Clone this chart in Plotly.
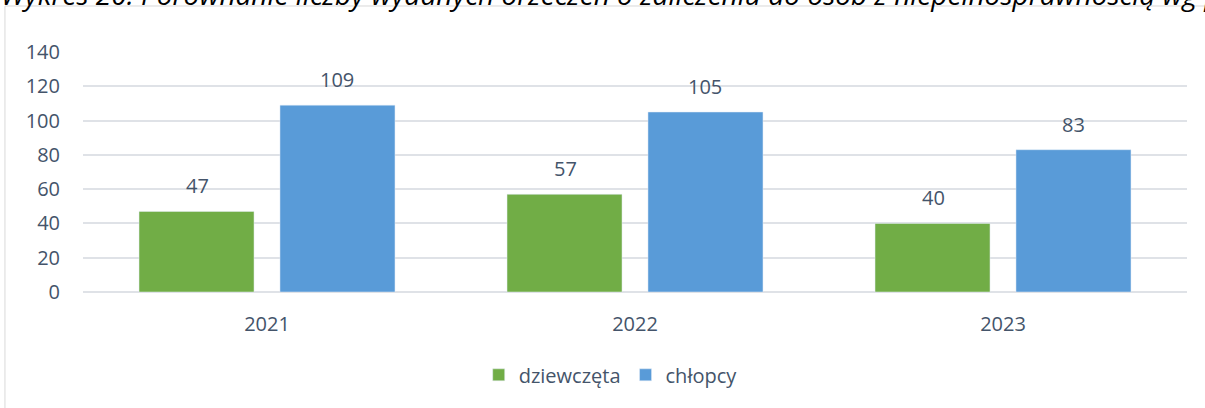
import plotly.graph_objects as go

years = ["2021", "2022", "2023"]
girls = [47, 57, 40]
boys = [109, 105, 83]
series_names = ["dziewczęta", "chłopcy"]
y_ticks = [0, 20, 40, 60, 80, 100, 120, 140]
title_text = "Wykres 20. Porównanie liczby wydanych orzeczeń o zaliczeniu do osób z niepełnosprawnością wg płci"

FONT = "Open Sans"
TXT = "#44546a"

fig = go.Figure()
fig.add_trace(go.Bar(x=years, y=girls, name=series_names[0], marker_color="#71ad46"))
fig.add_trace(go.Bar(x=years, y=boys, name=series_names[1], marker_color="#599bd8"))

annotations = [dict(text=title_text, xref="paper", yref="paper", x=-0.0761, y=1.155,
                    xanchor="left", yanchor="bottom", showarrow=False,
                    font=dict(family=FONT, size=28, color="black", style="italic"))]
for vals, shift in ((girls, -70), (boys, 70)):
    for idx, v in enumerate(vals):
        annotations.append(dict(x=idx, y=v, text=str(v), xref="x", yref="y", showarrow=False,
                                xshift=shift, yshift=10, yanchor="bottom",
                                font=dict(family=FONT, size=20, color=TXT)))

fig.update_layout(
    width=1205, height=408,
    margin=dict(l=83, r=18, t=52, b=116),
    paper_bgcolor="white", plot_bgcolor="white",
    barmode="group", bargap=0.234, bargroupgap=0.184,
    font=dict(family=FONT, size=20, color=TXT),
    showlegend=True,
    legend=dict(orientation="h", x=0.478, xanchor="center", y=-0.345, yanchor="middle",
                font=dict(size=20, color=TXT, family=FONT), traceorder="normal"),
    xaxis=dict(type="category", range=[-0.5, len(years) - 0.5], showgrid=False,
               showline=False, ticks="", ticklabelstandoff=18,
               tickfont=dict(size=20, color=TXT)),
    yaxis=dict(range=[0, 140], tickvals=y_ticks, showgrid=True, gridcolor="#dfe2e7",
               gridwidth=1.5, zeroline=True, zerolinecolor="#dfe2e7", zerolinewidth=1.5,
               showline=False, ticks="", ticklabelstandoff=22,
               tickfont=dict(size=20, color=TXT)),
    shapes=[dict(type="rect", xref="paper", yref="paper", x0=-0.0707, x1=1.3,
                 y0=-0.7, y1=1.1917, line=dict(color="#d9d9d9", width=1), layer="below")],
    annotations=annotations,
)

fig.write_html("out.html", config={"displayModeBar": False},
               post_script="document.body.style.margin='0';")
